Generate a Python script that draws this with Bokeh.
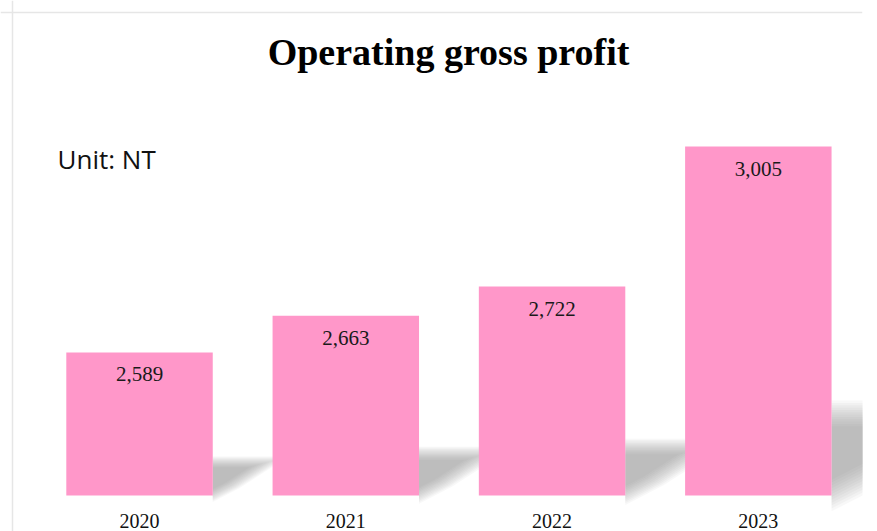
import numpy as np
from bokeh.plotting import figure
from bokeh.models import Range1d, Label, Span, ColumnDataSource
from bokeh.core.properties import value
from bokeh.embed import file_html
from bokeh.resources import INLINE

# ---- data ----
years = ["2020", "2021", "2022", "2023"]
profit = [2589, 2663, 2722, 3005]
baseline = 2300
title_text = "Operating gross profit"
unit_text = "Unit: NT"

pos = list(range(len(years)))
bar_w = 0.71
serif = "Liberation Serif"

p = figure(width=877, height=531, output_backend="svg", toolbar_location=None,
           x_range=Range1d(-0.674, 3.505), y_range=Range1d(2227.3, 3300),
           min_border_left=0, min_border_right=15, min_border_top=0, min_border_bottom=0)
p.background_fill_color = "white"
p.border_fill_color = "white"
p.outline_line_color = None
p.grid.visible = False
p.xaxis.visible = False
p.yaxis.visible = False

# ---- soft shadows (drawn under the bars) ----
scales = np.linspace(1.35, 0.65, 12)
for s in scales:
    xs, ys = [], []
    for i, v in zip(pos, profit):
        H = v - baseline
        xr = i + bar_w / 2
        top = baseline + 0.235 * H
        L = H * 0.00094
        tx = [xr, xr, xr + L, xr + 0.35 * L]
        ty = [baseline, top, top, baseline + 0.3 * (top - baseline)]
        ax_, ay_ = xr, baseline + 0.55 * (top - baseline)
        xs.append([ax_ + (t - ax_) * s for t in tx])
        ys.append([ay_ + (t - ay_) * s for t in ty])
    p.patches(xs=xs, ys=ys, fill_color="#808080", fill_alpha=0.055, line_color=None)

# ---- bars ----
src = ColumnDataSource(dict(x=pos, top=profit, base=[baseline] * len(pos),
                            lbl=[f"{v:,}" for v in profit], yr=years))
p.vbar(x="x", top="top", bottom="base", width=bar_w, source=src,
       fill_color="#FF97C9", line_color=None)
p.text(x="x", y="top", text="lbl", source=src, text_align="center", text_baseline="top",
       y_offset=15, text_font=value(serif), text_font_size="21px", text_color="#1a1a1a")
# category labels under the bars
p.text(x="x", y="base", text="yr", source=src, text_align="center", text_baseline="top",
       y_offset=18, text_font=value(serif), text_font_size="20px", text_color="#111111")

# ---- border lines ----
p.add_layout(Span(location=12, location_units="screen", dimension="height",
                  line_color="#e6e6e6", line_width=1.5))
p.add_layout(Span(location=519, location_units="screen", dimension="width",
                  line_color="#e6e6e6", line_width=1.5))

# ---- title and unit ----
p.add_layout(Label(x=448, y=480, x_units="screen", y_units="screen", text=title_text,
                   text_align="center", text_baseline="alphabetic",
                   text_font=serif, text_font_style="bold", text_font_size="38px",
                   text_color="#000000"))
p.add_layout(Label(x=57, y=373, x_units="screen", y_units="screen", text=unit_text,
                   text_align="left", text_baseline="alphabetic",
                   text_font="Open Sans", text_font_size="26px", text_color="#111111"))

open("out.html", "w").write(file_html(p, INLINE))
